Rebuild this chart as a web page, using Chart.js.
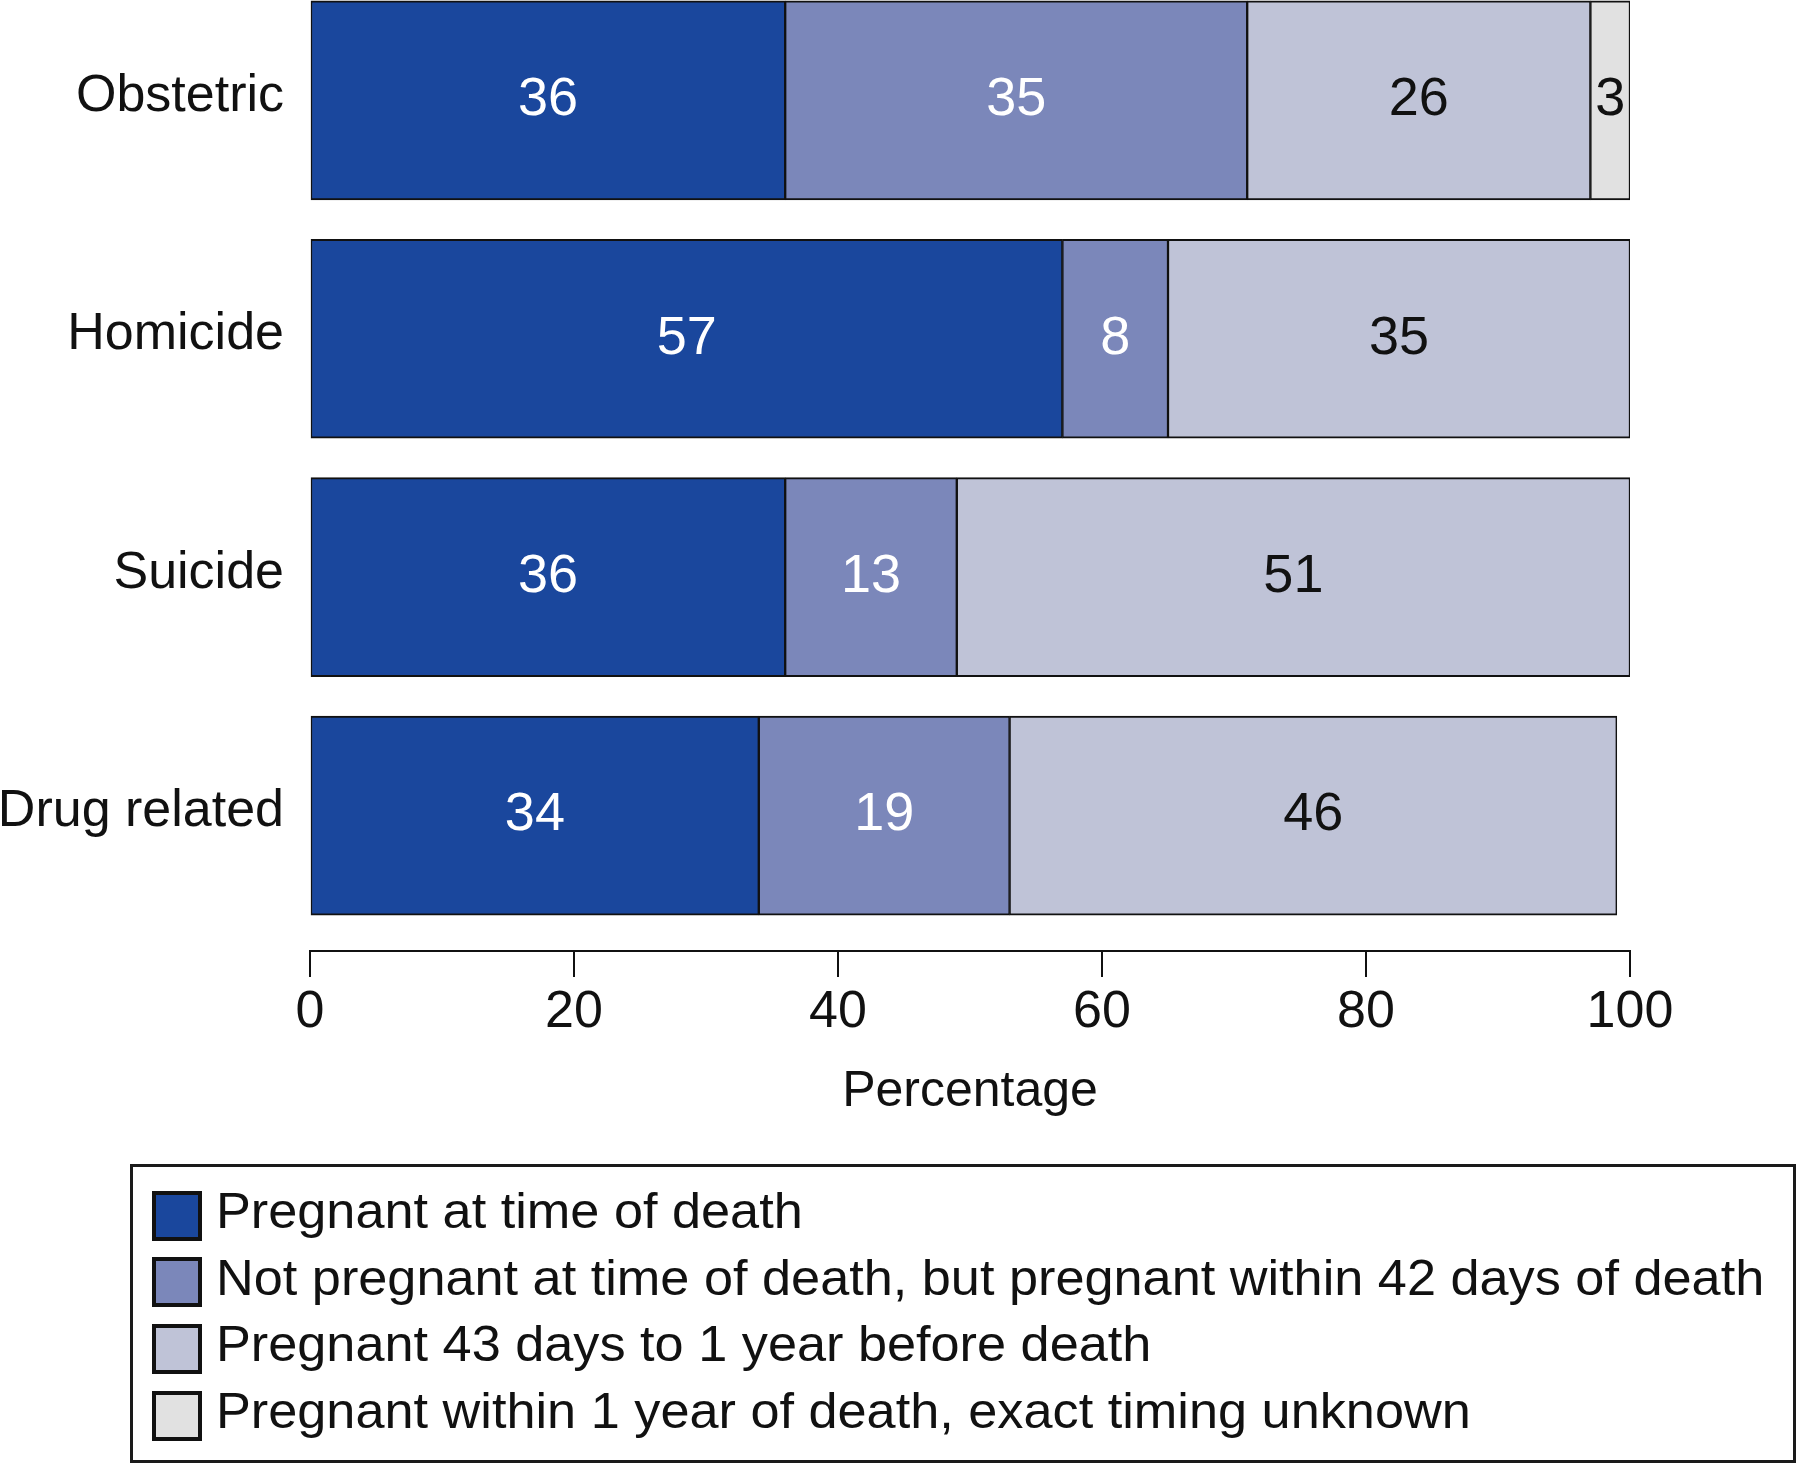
<!DOCTYPE html>
<html>
<head>
<meta charset="utf-8">
<script src="https://cdn.jsdelivr.net/npm/chart.js@4.4.1/dist/chart.umd.min.js"></script>
<style>
  body { margin: 0; background: #fff; font-family: "Liberation Sans", Arial, sans-serif; }
  #wrap { position: absolute; left: 0; top: 0; width: 1800px; height: 1150px; }
  #legend {
    position: absolute; left: 130px; top: 1164px; width: 1666px; height: 299px;
    border: 3px solid #1a1a1a; box-sizing: border-box;
  }
  .swatch { position: absolute; width: 50px; height: 50px; border: 4px solid #111; box-sizing: border-box; }
  .ltext {
    position: absolute; font-size: 50px; line-height: 50px; color: #111; white-space: nowrap;
    transform: scaleX(1.045); transform-origin: 0 50%;
  }
</style>
</head>
<body>
<div id="wrap"><canvas id="chart" width="1800" height="1150"></canvas></div>
<div id="legend"></div>
<script>
// Data
const categories = ['Obstetric', 'Homicide', 'Suicide', 'Drug related'];
const seriesNames = [
    'Pregnant at time of death',
    'Not pregnant at time of death, but pregnant within 42 days of death',
    'Pregnant 43 days to 1 year before death',
    'Pregnant within 1 year of death, exact timing unknown'
];
const pregnantAtDeath = [36, 57, 36, 34];
const within42Days = [35, 8, 13, 19];
const days43To1Year = [26, 35, 51, 46];
const timingUnknown = [3, 0, 0, 0];
const xTicks = [0, 20, 40, 60, 80, 100];

const seriesValues = [pregnantAtDeath, within42Days, days43To1Year, timingUnknown];
const colors = ['#1a479d', '#7b87ba', '#bfc3d7', '#e1e1e1'];
const labelColors = ['#ffffff', '#ffffff', '#111111', '#111111'];
const FONT = '"Liberation Sans", Arial, sans-serif';

// Value labels in the middle of each segment
const barLabels = {
    id: 'barLabels',
    afterDatasetsDraw(chart) {
        const ctx = chart.ctx;
        ctx.save();
        ctx.font = '54px ' + FONT;
        ctx.textAlign = 'center';
        ctx.textBaseline = 'middle';
        chart.data.datasets.forEach((ds, i) => {
            chart.getDatasetMeta(i).data.forEach((bar, j) => {
                const v = ds.data[j];
                if (!v) return;
                ctx.fillStyle = labelColors[i];
                ctx.fillText(String(v), (bar.x + bar.base) / 2, bar.y);
            });
        });
        ctx.restore();
    }
};

const ctx = document.getElementById('chart').getContext('2d');
const chart = new Chart(ctx, {
    type: 'bar',
    data: {
        labels: categories.map((c, i) => i),
        datasets: seriesValues.map((vals, i) => ({
            label: seriesNames[i],
            data: vals.map(v => v || null),
            backgroundColor: colors[i],
            borderColor: '#111',
            borderWidth: { top: 2, bottom: 2, left: 1.5, right: 1.5 },
            borderSkipped: false,
            barThickness: 199
        }))
    },
    options: {
        indexAxis: 'y',
        responsive: false,
        animation: false,
        layout: { padding: { top: 0, left: 0, right: 170, bottom: 0 } },
        plugins: {
            legend: { display: false },
            tooltip: { enabled: false }
        },
        scales: {
            x: {
                stacked: true,
                min: 0,
                max: 100,
                afterBuildTicks: (scale) => { scale.ticks = xTicks.map(v => ({ value: v })); },
                afterFit: (scale) => { scale.height = 199; },
                grid: { drawOnChartArea: false, drawTicks: true, tickLength: 26, color: '#111', lineWidth: 2 },
                border: { display: true, color: '#111', width: 2 },
                ticks: { font: { size: 52, family: FONT }, color: '#111', padding: 4, maxRotation: 0 },
                title: {
                    display: true, text: 'Percentage', color: '#111',
                    font: { size: 50, family: FONT }, padding: { top: 0, bottom: 28 }
                }
            },
            y: {
                type: 'linear',
                stacked: true,
                reverse: true,
                offset: false,
                min: -0.421,
                max: 3.568,
                afterFit: (scale) => {
                    scale.width = 310;
                    scale.paddingTop = 0;
                    scale.paddingBottom = 0;
                },
                grid: { display: false, drawTicks: false, offset: false },
                border: { display: false },
                ticks: {
                    stepSize: 1,
                    autoSkip: false,
                    padding: 26,
                    labelOffset: -4,
                    font: { size: 52, family: FONT },
                    color: '#111',
                    callback: (v) => Number.isInteger(v) ? categories[v] : undefined
                }
            }
        }
    },
    plugins: [barLabels]
});

// Legend box
const legend = document.getElementById('legend');
seriesNames.forEach((name, i) => {
    const sw = document.createElement('div');
    sw.className = 'swatch';
    sw.style.left = '18.7px';
    sw.style.top = (23.7 + i * 66.7) + 'px';
    sw.style.background = colors[i];
    legend.appendChild(sw);
    const t = document.createElement('div');
    t.className = 'ltext';
    t.style.left = '83px';
    t.style.top = (19 + i * 66.7) + 'px';
    t.textContent = name;
    legend.appendChild(t);
});
</script>
</body>
</html>
